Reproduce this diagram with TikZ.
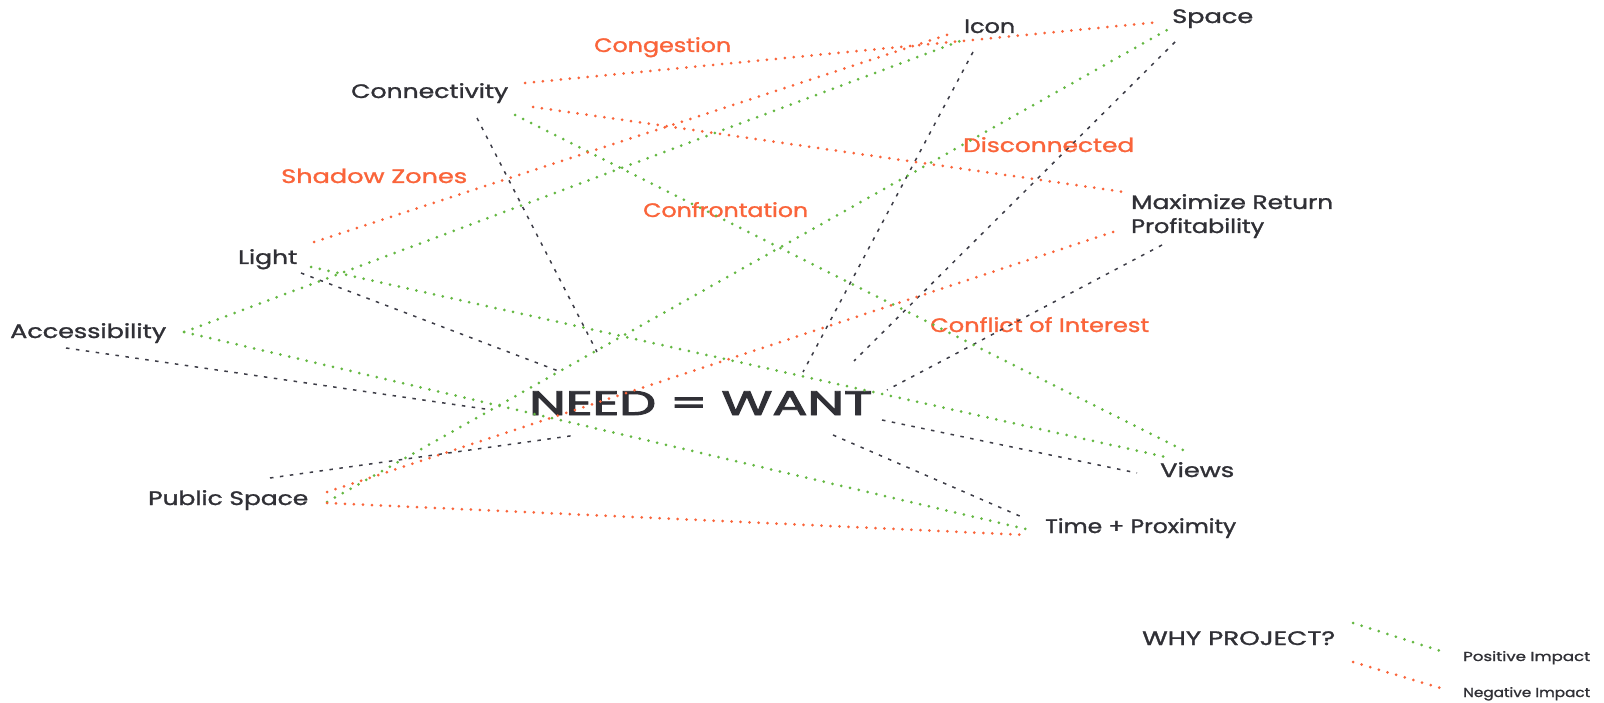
\documentclass[tikz,border=0pt]{standalone}
\usepackage{fontspec}
\setmainfont{Poppins}
\newfontfamily\labfont{Poppins}[FakeBold=1.2]
\newfontfamily\bigfont{Poppins}[FakeBold=2.6]
\usepackage{graphicx}
\definecolor{pos}{RGB}{100,184,66}
\definecolor{neg}{RGB}{250,100,58}
\definecolor{ink}{RGB}{48,48,54}
\definecolor{dashc}{RGB}{60,60,70}
\newcommand{\fitw}[2]{\resizebox{#1pt}{\height}{#2}}
\tikzset{
  lab/.style={anchor=base west, inner sep=0pt, text=ink, font=\labfont\fontsize{19.5}{20}\selectfont},
  neglab/.style={lab, text=neg},
  biglab/.style={lab, font=\bigfont\fontsize{34}{36}\selectfont},
  leglab/.style={lab, font=\labfont\fontsize{13}{14}\selectfont},
  posline/.style={draw=pos, line width=3pt, line cap=round, dash pattern=on 0pt off 9pt},
  negline/.style={draw=neg, line width=3pt, line cap=round, dash pattern=on 0pt off 9pt},
  grayline/.style={draw=dashc, line width=1.5pt, dash pattern=on 3.5pt off 6.5pt}
}
\begin{document}
\begin{tikzpicture}[x=1pt,y=-1pt]
\useasboundingbox[fill=white] (0,0) rectangle (1604,703);
% labels
\node[lab] (icon) at (964,33) {\fitw{51}{Icon}};
\node[lab] (space) at (1172,23) {\fitw{81}{Space}};
\node[neglab] (congestion) at (594,52) {\fitw{137}{Congestion}};
\node[lab] (connectivity) at (351,98) {\fitw{157}{Connectivity}};
\node[neglab] (disconnected) at (963,152) {\fitw{171}{Disconnected}};
\node[neglab] (shadow) at (281,183) {\fitw{186}{Shadow Zones}};
\node[lab] (maxret) at (1131,209) {\fitw{202}{Maximize Return}};
\node[lab] (profit) at (1131,233) {\fitw{133}{Profitability}};
\node[neglab] (confront) at (643,217) {\fitw{165}{Confrontation}};
\node[lab] (light) at (238,264) {\fitw{59}{Light}};
\node[lab] (access) at (10,338) {\fitw{156}{Accessibility}};
\node[neglab] (conflict) at (930,332) {\fitw{219}{Conflict of Interest}};
\node[biglab] (need) at (529,415) {\fitw{343}{NEED = WANT}};
\node[lab] (public) at (148,505) {\fitw{160}{Public Space}};
\node[lab] (views) at (1160,477) {\fitw{74}{Views}};
\node[lab] (time) at (1045,533) {\fitw{191}{Time + Proximity}};
\node[lab] (why) at (1142,645) {\fitw{193}{WHY PROJECT?}};
\node[leglab] (posimp) at (1463,661) {\fitw{127}{Positive Impact}};
\node[leglab] (negimp) at (1463,697) {\fitw{127}{Negative Impact}};
% connector end points
\coordinate (accR) at (184,332);
\coordinate (iconG) at (963,40);
\coordinate (timeG) at (1030,530);
\coordinate (lightG) at (311,267);
\coordinate (viewsG1) at (1170,458);
\coordinate (connG) at (515,115);
\coordinate (viewsG2) at (1183,450);
\coordinate (pubG) at (327,502);
\coordinate (spaceG) at (1167,30);
\coordinate (connO1) at (525,83);
\coordinate (spaceO) at (1160,22);
\coordinate (lightO) at (314,242);
\coordinate (iconO) at (953,33);
\coordinate (connO2) at (533,107);
\coordinate (maxO) at (1124,192);
\coordinate (pubO1) at (327,492);
\coordinate (profO) at (1119,230);
\coordinate (pubO2) at (327,503);
\coordinate (timeO) at (1027,535);
\coordinate (connD) at (477,118);
\coordinate (needD1) at (597,352);
\coordinate (lightD) at (301,273);
\coordinate (needD2) at (561,372);
\coordinate (accD) at (66,348);
\coordinate (needD3) at (492,410);
\coordinate (pubD) at (270,478);
\coordinate (needD4) at (577,435);
\coordinate (iconD) at (973,52);
\coordinate (needD5) at (803,372);
\coordinate (spaceD) at (1175,42);
\coordinate (needD6) at (854,361);
\coordinate (profD) at (1162,245);
\coordinate (needD7) at (887,390);
\coordinate (needD8) at (882,420);
\coordinate (viewsD) at (1137,473);
\coordinate (needD9) at (833,435);
\coordinate (timeD) at (1022,517);
\coordinate (legG1) at (1353,623);
\coordinate (legG2) at (1447,653);
\coordinate (legO1) at (1353,662);
\coordinate (legO2) at (1447,690);
% gray dashed
\draw[grayline] (connD) -- (needD1);
\draw[grayline] (lightD) -- (needD2);
\draw[grayline] (accD) -- (needD3);
\draw[grayline] (pubD) -- (needD4);
\draw[grayline] (iconD) -- (needD5);
\draw[grayline] (spaceD) -- (needD6);
\draw[grayline] (profD) -- (needD7);
\draw[grayline] (needD8) -- (viewsD);
\draw[grayline] (needD9) -- (timeD);
% positive
\draw[posline] (accR) -- (iconG);
\draw[posline] (accR) -- (timeG);
\draw[posline] (lightG) -- (viewsG1);
\draw[posline] (connG) -- (viewsG2);
\draw[posline] (pubG) -- (spaceG);
% negative
\draw[negline] (connO1) -- (spaceO);
\draw[negline] (lightO) -- (iconO);
\draw[negline] (connO2) -- (maxO);
\draw[negline] (pubO1) -- (profO);
\draw[negline] (pubO2) -- (timeO);
% legend
\draw[posline] (legG1) -- (legG2);
\draw[negline] (legO1) -- (legO2);
\end{tikzpicture}
\end{document}
